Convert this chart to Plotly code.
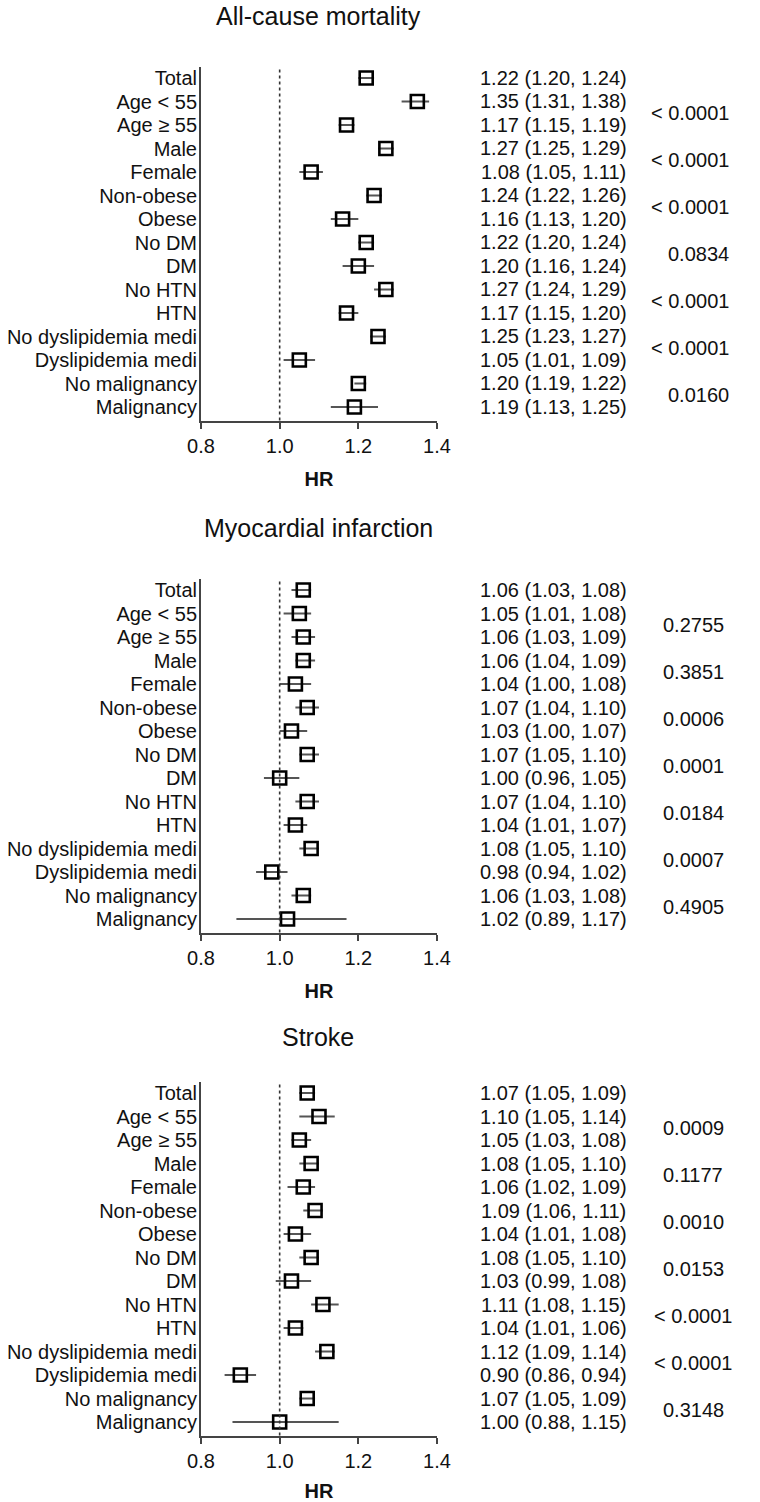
import plotly.graph_objects as go

# subgroup labels (same for all three outcomes)
labels = ["Total", "Age < 55", "Age ≥ 55", "Male", "Female", "Non-obese", "Obese",
          "No DM", "DM", "No HTN", "HTN", "No dyslipidemia medi", "Dyslipidemia medi",
          "No malignancy", "Malignancy"]

# all-cause mortality
mort_hr = [1.22, 1.35, 1.17, 1.27, 1.08, 1.24, 1.16, 1.22, 1.20, 1.27, 1.17, 1.25, 1.05, 1.20, 1.19]
mort_lo = [1.20, 1.31, 1.15, 1.25, 1.05, 1.22, 1.13, 1.20, 1.16, 1.24, 1.15, 1.23, 1.01, 1.19, 1.13]
mort_hi = [1.24, 1.38, 1.19, 1.29, 1.11, 1.26, 1.20, 1.24, 1.24, 1.29, 1.20, 1.27, 1.09, 1.22, 1.25]
mort_p = ["< 0.0001", "< 0.0001", "< 0.0001", "0.0834", "< 0.0001", "< 0.0001", "0.0160"]

# myocardial infarction
mi_hr = [1.06, 1.05, 1.06, 1.06, 1.04, 1.07, 1.03, 1.07, 1.00, 1.07, 1.04, 1.08, 0.98, 1.06, 1.02]
mi_lo = [1.03, 1.01, 1.03, 1.04, 1.00, 1.04, 1.00, 1.05, 0.96, 1.04, 1.01, 1.05, 0.94, 1.03, 0.89]
mi_hi = [1.08, 1.08, 1.09, 1.09, 1.08, 1.10, 1.07, 1.10, 1.05, 1.10, 1.07, 1.10, 1.02, 1.08, 1.17]
mi_p = ["0.2755", "0.3851", "0.0006", "0.0001", "0.0184", "0.0007", "0.4905"]

# stroke
st_hr = [1.07, 1.10, 1.05, 1.08, 1.06, 1.09, 1.04, 1.08, 1.03, 1.11, 1.04, 1.12, 0.90, 1.07, 1.00]
st_lo = [1.05, 1.05, 1.03, 1.05, 1.02, 1.06, 1.01, 1.05, 0.99, 1.08, 1.01, 1.09, 0.86, 1.05, 0.88]
st_hi = [1.09, 1.14, 1.08, 1.10, 1.09, 1.11, 1.08, 1.10, 1.08, 1.15, 1.06, 1.14, 0.94, 1.09, 1.15]
st_p = ["0.0009", "0.1177", "0.0010", "0.0153", "< 0.0001", "< 0.0001", "0.3148"]

x_ticks = [0.8, 1.0, 1.2, 1.4]

W, H = 760, 1502
FONT = "Arial, Liberation Sans, sans-serif"
INK = "#111111"
AXC = "#444444"
ROW = 23.5  # px per row

# (title, hr, lo, hi, p, y of first row px, y of title px, p-value alignment)
panels = [
    ("All-cause mortality", mort_hr, mort_lo, mort_hi, mort_p, 78, 16, "right"),
    ("Myocardial infarction", mi_hr, mi_lo, mi_hi, mi_p, 590, 528, "center"),
    ("Stroke", st_hr, st_lo, st_hi, st_p, 1093, 1037, "center"),
]

fig = go.Figure()
layout = {}
annotations = []
shapes = []

for i, (title, hr, lo, hi, pv, top_row, title_y, p_align) in enumerate(panels):
    n = i + 1
    xk = "x" if n == 1 else f"x{n}"
    yk = "y" if n == 1 else f"y{n}"
    xa = "xaxis" if n == 1 else f"xaxis{n}"
    ya = "yaxis" if n == 1 else f"yaxis{n}"

    fig.add_trace(go.Scatter(
        x=hr, y=labels, mode="markers", xaxis=xk, yaxis=yk, showlegend=False,
        marker=dict(symbol="square-open", size=13, color="black", line=dict(width=2.6, color="black")),
        error_x=dict(type="data", symmetric=False,
                     array=[h2 - h for h, h2 in zip(hr, hi)],
                     arrayminus=[h - l for h, l in zip(hr, lo)],
                     color="#555555", thickness=1.8, width=0),
    ))

    top_px = top_row - 11.5
    bot_px = top_row + 14 * ROW + 13.5
    layout[xa] = dict(
        domain=[201 / W, 437 / W], range=[0.8, 1.4], anchor=yk, automargin=False,
        tickvals=x_ticks, tickformat=".1f", ticks="outside", ticklen=6, tickwidth=2,
        tickcolor=AXC, showline=True, linecolor=AXC, linewidth=2,
        showgrid=False, zeroline=False,
        tickfont=dict(size=20, color=INK, family=FONT),
        title=dict(text="<b>HR</b>", font=dict(size=20, color=INK, family=FONT), standoff=16),
    )
    layout[ya] = dict(
        domain=[1 - bot_px / H, 1 - top_px / H], type="category", automargin=False,
        range=[14 + 13.5 / ROW, -11.5 / ROW], anchor=xk,
        tickmode="array", tickvals=labels, ticktext=labels,
        showline=True, linecolor=AXC, linewidth=2, ticks="", showgrid=False, zeroline=False,
        ticklabelstandoff=-2,
        tickfont=dict(size=20, color=INK, family=FONT),
    )

    # reference line at HR = 1
    shapes.append(dict(type="line", xref=xk, yref=f"{yk} domain", x0=1.0, x1=1.0, y0=0, y1=1,
                       line=dict(color="#333333", width=1.6, dash="dot")))

    # panel title
    annotations.append(dict(text=title, xref="paper", yref="paper", x=318 / W, y=1 - title_y / H,
                            showarrow=False, xanchor="center", yanchor="middle",
                            font=dict(size=25, color=INK, family=FONT)))

    # HR (95% CI) column
    annotations.append(dict(text="<b>HR (95% CI)</b>", xref="paper", yref=yk, x=554 / W, y=-21 / ROW,
                            showarrow=False, xanchor="center", yanchor="middle",
                            font=dict(size=20, color=INK, family=FONT)))
    for k, (h, l, u) in enumerate(zip(hr, lo, hi)):
        annotations.append(dict(text=f"{h:.2f} ({l:.2f}, {u:.2f})", xref="paper", yref=yk,
                                x=553 / W, y=k, showarrow=False, xanchor="center", yanchor="middle",
                                font=dict(size=20, color=INK, family=FONT)))

    # P for interaction column
    annotations.append(dict(text="<b>P for</b>", xref="paper", yref=yk, x=652 / W, y=-36 / ROW,
                            showarrow=False, xanchor="left", yanchor="middle",
                            font=dict(size=20, color=INK, family=FONT)))
    annotations.append(dict(text="<b>interaction</b>", xref="paper", yref=yk, x=652 / W, y=-13 / ROW,
                            showarrow=False, xanchor="left", yanchor="middle",
                            font=dict(size=20, color=INK, family=FONT)))
    for k, p in enumerate(pv):
        px = 731 / W if p_align == "right" else 693 / W
        annotations.append(dict(text=p, xref="paper", yref=yk, x=px, y=2 * k + 1.5,
                                showarrow=False, xanchor=p_align, yanchor="middle",
                                font=dict(size=20, color=INK, family=FONT)))

fig.update_layout(
    width=W, height=H,
    margin=dict(l=0, r=0, t=0, b=0, autoexpand=False),
    paper_bgcolor="white", plot_bgcolor="white",
    font=dict(family=FONT, color=INK),
    annotations=annotations, shapes=shapes,
    **layout,
)

# drop the page's default body margin so the figure sits at the window's corner
fig.write_html("out.html", config={"displayModeBar": False},
               post_script="document.body.style.margin = '0';")
